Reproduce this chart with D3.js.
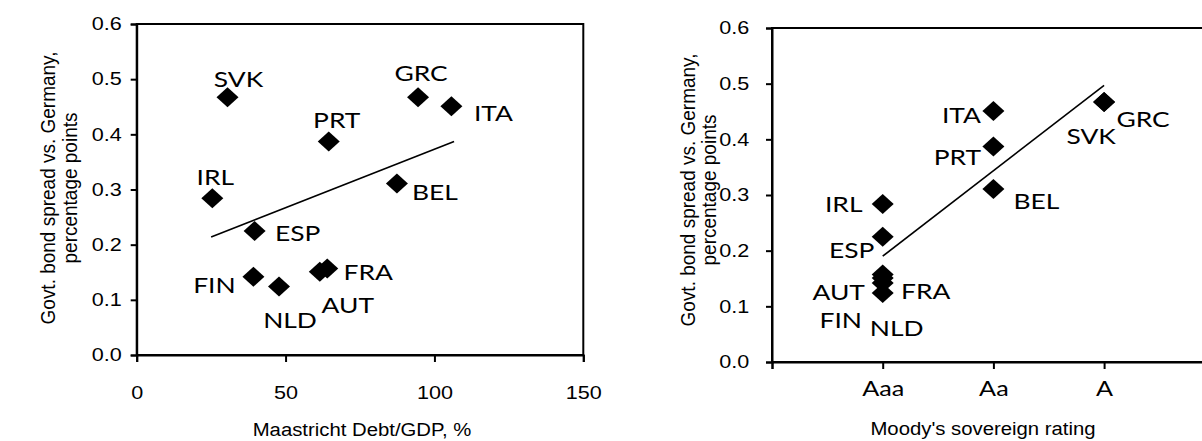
<!DOCTYPE html>
<html>
<head>
<meta charset="utf-8">
<script src="https://cdn.jsdelivr.net/npm/d3@7"></script>
<style>
  body { margin: 0; background: #fff; }
  svg { display: block; }
</style>
</head>
<body>
<div id="chart"></div>
<script>
// data
var countries = ["SVK", "GRC", "ITA", "PRT", "IRL", "BEL", "ESP", "FIN", "NLD", "AUT", "FRA"];
var debtGdp   = [30.5, 94.5, 105.7, 64.5, 25.4, 87.4, 39.6, 39.2, 47.8, 61.5, 64.0];
var spread    = [0.467, 0.467, 0.451, 0.387, 0.284, 0.311, 0.225, 0.142, 0.124, 0.151, 0.157];
var rating    = ["A", "A", "Aa", "Aa", "Aaa", "Aa", "Aaa", "Aaa", "Aaa", "Aaa", "Aaa"];
var ratingTicks = ["Aaa", "Aa", "A"];
var spreadTicks = [0, 0.1, 0.2, 0.3, 0.4, 0.5, 0.6];
var debtTicks = [0, 50, 100, 150];

// fitted lines, end points as drawn
var trendDebt = [25.0, 106.6];
var trendDebtSpread = [0.214, 0.387];
var trendRating = ["Aaa", "A"];
var trendRatingSpread = [0.19, 0.497];

// label placement (px, from marker centre)
var leftLabelOffset = {
  SVK: [11, -19], GRC: [3, -25], ITA: [42, 6], PRT: [8, -22], IRL: [3, -22], BEL: [38, 8],
  ESP: [43, 2], FIN: [-39, 8], NLD: [11, 33], AUT: [28, 33], FRA: [41, 3]
};
var rightLabelOffset = {
  SVK: [-13, 33], GRC: [39, 16], ITA: [-32, 3], PRT: [-36, 10], IRL: [-39, -1], BEL: [43, 12],
  ESP: [-31, 13], FIN: [-42, 36], NLD: [14, 34], AUT: [-44, 13], FRA: [43, 16]
};

var W = 1202, H = 441;
var SX = 1.2;           // sideways stretch of the labels in the original
var SXT = 1.07;         // same for the axis titles
var tickFont = "'Liberation Sans', Arial, sans-serif";
var labelFont = "Lato, 'Noto Sans', sans-serif";

var points = countries.map(function(c, i) {
  return { name: c, debt: debtGdp[i], spread: spread[i], rating: rating[i] };
});

var svg = d3.select("#chart").append("svg")
  .attr("width", W)
  .attr("height", H);

function diamond(w, h) {
  return "M0," + (-h) + "L" + w + ",0L0," + h + "L" + (-w) + ",0Z";
}

function styleAxis(g) {
  g.select(".domain").attr("stroke", "#000").attr("stroke-width", 2);
  g.selectAll(".tick line").attr("stroke", "#000").attr("stroke-width", 2);
  g.selectAll(".tick text").attr("fill", "#000");
}

function stretchedText(parent, x, y, str, font, size, sx) {
  return parent.append("text")
    .attr("transform", "translate(" + x + "," + y + ") scale(" + sx + ",1)")
    .attr("text-anchor", "middle")
    .attr("dominant-baseline", "central")
    .attr("font-family", font)
    .attr("font-size", size)
    .attr("fill", "#000")
    .text(str);
}

function drawPanel(opt) {
  var g = svg.append("g");
  var x = opt.x, y = opt.y;

  // frame
  g.append("rect")
    .attr("x", x.range()[0]).attr("y", y.range()[1])
    .attr("width", x.range()[1] - x.range()[0])
    .attr("height", y.range()[0] - y.range()[1])
    .attr("fill", "none").attr("stroke", "#000").attr("stroke-width", 2);

  var yAxis = g.append("g")
    .attr("transform", "translate(" + x.range()[0] + ",0)")
    .call(d3.axisLeft(y).tickValues(spreadTicks).tickFormat(d3.format(".1f")).tickSize(6).tickPadding(opt.yPad));
  yAxis.selectAll(".tick text")
    .attr("font-family", tickFont).attr("font-size", 18)
    .attr("transform", "scale(" + SX + ",1)");
  styleAxis(yAxis);

  var xAxis = g.append("g")
    .attr("transform", "translate(0," + y.range()[0] + ")")
    .call(opt.xAxis.tickSize(7).tickPadding(opt.xPad));
  xAxis.selectAll(".tick text")
    .attr("font-family", opt.xTickFont).attr("font-size", opt.xTickSize)
    .attr("transform", "scale(" + SX + ",1)");
  styleAxis(xAxis);

  // trend line
  g.append("line")
    .attr("x1", x(opt.trendX[0])).attr("y1", y(opt.trendY[0]))
    .attr("x2", x(opt.trendX[1])).attr("y2", y(opt.trendY[1]))
    .attr("stroke", "#000").attr("stroke-width", 1.6);

  // markers
  g.append("g").selectAll("path")
    .data(points)
    .enter().append("path")
    .attr("d", diamond(11, 10))
    .attr("transform", function(d) { return "translate(" + x(opt.xValue(d)) + "," + y(d.spread) + ")"; })
    .attr("fill", "#000");

  // country labels
  var lab = g.append("g");
  points.forEach(function(d) {
    var off = opt.labelOffset[d.name];
    stretchedText(lab, x(opt.xValue(d)) + off[0], y(d.spread) + off[1], d.name, labelFont, 22, SX);
  });

  // axis titles
  stretchedText(g, opt.xTitlePos[0], opt.xTitlePos[1], opt.xTitle, tickFont, 19, SXT);
  var yTitles = ["Govt. bond spread vs. Germany,", "percentage points"];
  yTitles.forEach(function(t, i) {
    g.append("text")
      .attr("transform", "translate(" + opt.yTitleX[i] + "," + opt.yTitleY + ") rotate(-90) scale(1," + SXT + ")")
      .attr("text-anchor", "middle")
      .attr("dominant-baseline", "central")
      .attr("font-family", tickFont)
      .attr("font-size", 19)
      .attr("fill", "#000")
      .text(t);
  });
}

// left panel: debt ratio
var xDebt = d3.scaleLinear().domain([0, 150]).range([136.7, 583.3]);
var yLeft = d3.scaleLinear().domain([0, 0.6]).range([355, 24]);

drawPanel({
  x: xDebt, y: yLeft,
  xAxis: d3.axisBottom(xDebt).tickValues(debtTicks).tickFormat(d3.format("d")),
  xTickFont: tickFont, xTickSize: 18, xPad: 24, yPad: 6.5,
  xValue: function(d) { return d.debt; },
  trendX: trendDebt, trendY: trendDebtSpread,
  labelOffset: leftLabelOffset,
  xTitle: "Maastricht Debt/GDP, %", xTitlePos: [362, 429],
  yTitleX: [48, 70], yTitleY: 188
});

// right panel: rating
var ratingIndex = function(r) { return ratingTicks.indexOf(r) + 1; };
var xRating = d3.scaleLinear().domain([0, 4]).range([772, 772 + 4 * 110.7]);
var yRight = d3.scaleLinear().domain([0, 0.6]).range([362, 28]);

drawPanel({
  x: xRating, y: yRight,
  xAxis: d3.axisBottom(xRating).tickValues([0, 1, 2, 3]).tickFormat(function(d) { return d === 0 ? "" : ratingTicks[d - 1]; }),
  xTickFont: labelFont, xTickSize: 21, xPad: 12, yPad: 13,
  xValue: function(d) { return ratingIndex(d.rating); },
  trendX: trendRating.map(ratingIndex), trendY: trendRatingSpread,
  labelOffset: rightLabelOffset,
  xTitle: "Moody's sovereign rating", xTitlePos: [983, 428],
  yTitleX: [688, 709], yTitleY: 190
});
</script>
</body>
</html>
